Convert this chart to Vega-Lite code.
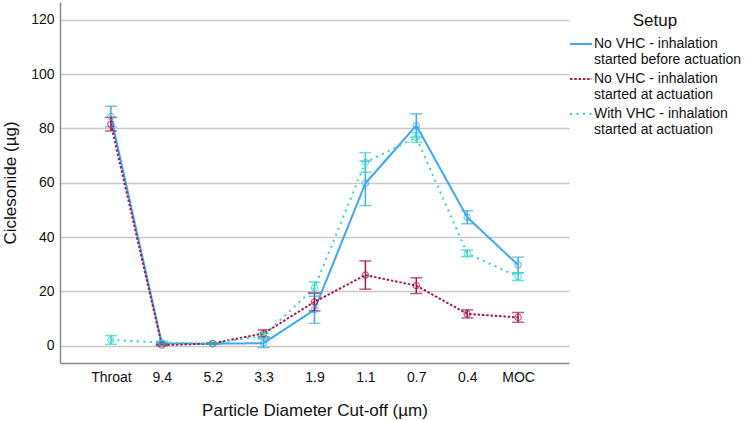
{
  "$schema": "https://vega.github.io/schema/vega-lite/v6.json",
  "width": 509,
  "height": 361,
  "autosize": {"type": "none"},
  "padding": {"left": 60, "top": 2, "right": 181, "bottom": 58},
  "background": "white",
  "config": {
    "font": "Liberation Sans",
    "view": {"stroke": null},
    "axis": {
      "labelFont": "Liberation Sans",
      "labelFontSize": 14,
      "labelColor": "#111111",
      "titleFont": "Liberation Sans",
      "titleFontSize": 17,
      "titleFontWeight": "normal",
      "titleColor": "#111111",
      "domainColor": "#8c8c8c",
      "domainWidth": 1.5,
      "ticks": false,
      "gridColor": "#c8c8c8",
      "gridWidth": 1.5
    },
    "legend": {
      "titleFont": "Liberation Sans",
      "labelFont": "Liberation Sans"
    }
  },
  "data": {
    "values": [
      {"cut": "Throat", "setup": "No VHC - inhalation started before actuation", "mean": 84.4, "lo": 80.6, "hi": 88.2},
      {"cut": "9.4", "setup": "No VHC - inhalation started before actuation", "mean": 0.8, "lo": 0.4, "hi": 1.2},
      {"cut": "5.2", "setup": "No VHC - inhalation started before actuation", "mean": 0.7, "lo": 0.5, "hi": 0.9},
      {"cut": "3.3", "setup": "No VHC - inhalation started before actuation", "mean": 0.9, "lo": -0.7, "hi": 2.5},
      {"cut": "1.9", "setup": "No VHC - inhalation started before actuation", "mean": 13.2, "lo": 8.2, "hi": 18.2},
      {"cut": "1.1", "setup": "No VHC - inhalation started before actuation", "mean": 59.8, "lo": 51.6, "hi": 68.0},
      {"cut": "0.7", "setup": "No VHC - inhalation started before actuation", "mean": 81.1, "lo": 76.8, "hi": 85.4},
      {"cut": "0.4", "setup": "No VHC - inhalation started before actuation", "mean": 47.3, "lo": 44.9, "hi": 49.7},
      {"cut": "MOC", "setup": "No VHC - inhalation started before actuation", "mean": 29.7, "lo": 26.8, "hi": 32.6},
      {"cut": "Throat", "setup": "No VHC - inhalation started at actuation", "mean": 81.6, "lo": 79.1, "hi": 84.1},
      {"cut": "9.4", "setup": "No VHC - inhalation started at actuation", "mean": 0.2, "lo": 0.0, "hi": 0.5},
      {"cut": "5.2", "setup": "No VHC - inhalation started at actuation", "mean": 0.8, "lo": 0.6, "hi": 1.0},
      {"cut": "3.3", "setup": "No VHC - inhalation started at actuation", "mean": 4.5, "lo": 3.2, "hi": 5.8},
      {"cut": "1.9", "setup": "No VHC - inhalation started at actuation", "mean": 16.1, "lo": 12.8, "hi": 19.4},
      {"cut": "1.1", "setup": "No VHC - inhalation started at actuation", "mean": 26.0, "lo": 20.8, "hi": 31.2},
      {"cut": "0.7", "setup": "No VHC - inhalation started at actuation", "mean": 22.1, "lo": 19.2, "hi": 25.0},
      {"cut": "0.4", "setup": "No VHC - inhalation started at actuation", "mean": 11.7, "lo": 10.2, "hi": 13.2},
      {"cut": "MOC", "setup": "No VHC - inhalation started at actuation", "mean": 10.4, "lo": 8.6, "hi": 12.2},
      {"cut": "Throat", "setup": "With VHC - inhalation started at actuation", "mean": 2.1, "lo": 0.5, "hi": 3.7},
      {"cut": "9.4", "setup": "With VHC - inhalation started at actuation", "mean": 1.1, "lo": 0.6, "hi": 1.6},
      {"cut": "5.2", "setup": "With VHC - inhalation started at actuation", "mean": 0.8, "lo": 0.6, "hi": 1.0},
      {"cut": "3.3", "setup": "With VHC - inhalation started at actuation", "mean": 3.7, "lo": 2.8, "hi": 4.6},
      {"cut": "1.9", "setup": "With VHC - inhalation started at actuation", "mean": 21.3, "lo": 19.2, "hi": 23.4},
      {"cut": "1.1", "setup": "With VHC - inhalation started at actuation", "mean": 67.5, "lo": 63.9, "hi": 71.1},
      {"cut": "0.7", "setup": "With VHC - inhalation started at actuation", "mean": 76.7, "lo": 74.9, "hi": 78.5},
      {"cut": "0.4", "setup": "With VHC - inhalation started at actuation", "mean": 34.0, "lo": 32.8, "hi": 35.2},
      {"cut": "MOC", "setup": "With VHC - inhalation started at actuation", "mean": 25.4, "lo": 24.0, "hi": 26.8}
    ]
  },
  "encoding": {
    "x": {
      "field": "cut",
      "type": "ordinal",
      "sort": ["Throat", "9.4", "5.2", "3.3", "1.9", "1.1", "0.7", "0.4", "MOC"],
      "scale": {"type": "point", "padding": 1},
      "axis": {"title": "Particle Diameter Cut-off (µm)", "labelAngle": 0, "labelPadding": 7, "titlePadding": 18, "grid": false}
    }
  },
  "layer": [
    {
      "mark": {"type": "line", "strokeWidth": 2},
      "encoding": {
        "y": {"field": "mean", "type": "quantitative", "title": "Ciclesonide (µg)", "scale": {"domain": [-6.4, 126.6], "nice": false, "zero": false}, "axis": {"values": [0, 20, 40, 60, 80, 100, 120], "labelPadding": 6, "titlePadding": 11}},
        "color": {
          "field": "setup", "type": "nominal",
          "scale": {"domain": ["No VHC - inhalation started before actuation", "No VHC - inhalation started at actuation", "With VHC - inhalation started at actuation"], "range": ["#3DA8F2", "#A6184F", "#2ED6C6"]},
          "legend": {"title": "Setup", "orient": "none", "legendX": 509, "legendY": 11, "titleFontSize": 17, "titleFontWeight": "normal", "titleColor": "#111111", "titleAnchor": "middle", "titleAlign": "center", "titlePadding": 2, "labelFontSize": 14, "labelColor": "#111111", "labelLimit": 400, "labelOffset": 1, "rowPadding": -4, "gridAlign": "all", "symbolType": "stroke", "symbolSize": 484, "symbolStrokeWidth": 2, "padding": 0, "labelExpr": "split(replace(datum.label, 'inhalation ', 'inhalation|'), '|')"}
        },
        "strokeDash": {
          "field": "setup", "type": "nominal",
          "scale": {"domain": ["No VHC - inhalation started before actuation", "No VHC - inhalation started at actuation", "With VHC - inhalation started at actuation"], "range": [[1, 0], [2.5, 1.8], [2, 4.5]]},
          "legend": {"title": "Setup", "orient": "none", "legendX": 509, "legendY": 11, "titleFontSize": 17, "titleFontWeight": "normal", "titleColor": "#111111", "titleAnchor": "middle", "titleAlign": "center", "titlePadding": 2, "labelFontSize": 14, "labelColor": "#111111", "labelLimit": 400, "labelOffset": 1, "rowPadding": -4, "gridAlign": "all", "symbolType": "stroke", "symbolSize": 484, "symbolStrokeWidth": 2, "padding": 0, "labelExpr": "split(replace(datum.label, 'inhalation ', 'inhalation|'), '|')"}
        }
      }
    },
    {
      "mark": {"type": "rule", "strokeWidth": 1.5},
      "encoding": {
        "y": {"field": "lo", "type": "quantitative", "title": "Ciclesonide (µg)", "scale": {"domain": [-6.4, 126.6], "nice": false, "zero": false}},
        "y2": {"field": "hi"},
        "color": {"field": "setup", "type": "nominal", "legend": null}
      }
    },
    {
      "mark": {"type": "tick", "thickness": 1.5, "size": 12},
      "encoding": {
        "y": {"field": "lo", "type": "quantitative", "title": "Ciclesonide (µg)", "scale": {"domain": [-6.4, 126.6], "nice": false, "zero": false}},
        "color": {"field": "setup", "type": "nominal", "legend": null}
      }
    },
    {
      "mark": {"type": "tick", "thickness": 1.5, "size": 12},
      "encoding": {
        "y": {"field": "hi", "type": "quantitative", "title": "Ciclesonide (µg)", "scale": {"domain": [-6.4, 126.6], "nice": false, "zero": false}},
        "color": {"field": "setup", "type": "nominal", "legend": null}
      }
    },
    {
      "mark": {"type": "point", "filled": false, "size": 40, "strokeWidth": 1.2},
      "encoding": {
        "y": {"field": "mean", "type": "quantitative", "title": "Ciclesonide (µg)", "scale": {"domain": [-6.4, 126.6], "nice": false, "zero": false}},
        "color": {"field": "setup", "type": "nominal", "legend": null}
      }
    }
  ]
}
